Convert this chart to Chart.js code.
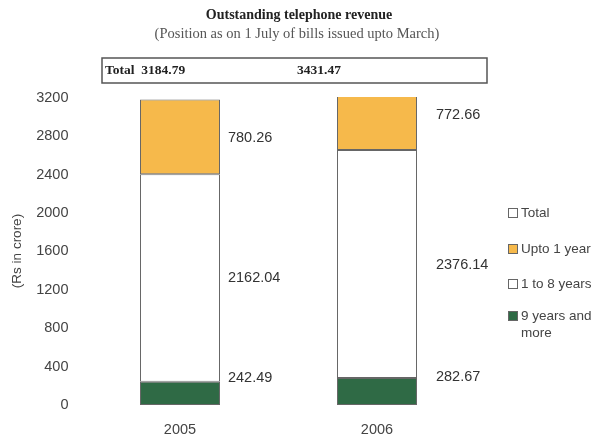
<!DOCTYPE html>
<html>
<head>
<meta charset="utf-8">
<script src="https://cdn.jsdelivr.net/npm/chart.js@4.4.1/dist/chart.umd.min.js"></script>
<style>
  html, body { margin: 0; padding: 0; background: #fff; }
  #wrap { width: 602px; height: 440px; position: relative; }
</style>
</head>
<body>
<div id="wrap"><canvas id="revChart" width="602" height="440"></canvas></div>
<script>
// chart data
const years = ['2005', '2006'];
const totals = [3184.79, 3431.47];
const nineYearsMore = [242.49, 282.67];
const oneToEight = [2162.04, 2376.14];
const uptoOneYear = [780.26, 772.66];
const yTickValues = [0, 400, 800, 1200, 1600, 2000, 2400, 2800, 3200];
const legendNames = ['Total', 'Upto 1 year', '1 to 8 years', ['9 years and', 'more']];

const titleText = 'Outstanding telephone revenue';
const subtitleText = '(Position as on 1 July of bills issued upto March)';

const orange = '#f6b94b';
const green = '#2f6a45';
const edge = '#666';

// title, subtitle and the totals box above the bars
const headerPlugin = {
  id: 'header',
  afterDraw(chart) {
    const c = chart.ctx;
    const xs = chart.scales.x;
    c.save();
    c.fillStyle = '#222';
    c.textAlign = 'center';
    c.textBaseline = 'middle';
    c.font = 'bold 14px "Liberation Serif"';
    c.fillText(titleText, 299, 15);
    c.fillStyle = '#555';
    c.font = '14.5px "Liberation Serif"';
    c.fillText(subtitleText, 297, 34);

    // totals box
    c.strokeStyle = '#555';
    c.lineWidth = 1.5;
    c.strokeRect(102, 58, 385, 25);
    c.fillStyle = '#222';
    c.font = 'bold 13.5px "Liberation Serif"';
    c.textAlign = 'left';
    c.fillText('Total  ' + totals[0].toFixed(2), 105, 71);
    c.fillText(totals[1].toFixed(2), xs.getPixelForValue(1) - 80, 71);
    c.restore();
  }
};

// value labels right of each segment
const valueLabels = {
  id: 'valueLabels',
  afterDatasetsDraw(chart, args, opts) {
    const c = chart.ctx;
    const top = chart.chartArea.top;
    c.save();
    c.font = '14.5px "Liberation Sans"';
    c.fillStyle = '#333';
    c.textAlign = 'left';
    c.textBaseline = 'middle';
    chart.data.datasets.forEach((ds, di) => {
      const meta = chart.getDatasetMeta(di);
      meta.data.forEach((el, i) => {
        const yTop = Math.max(el.y, top);
        const y = (yTop + el.base) / 2 + opts.nudgeY[di][i];
        const x = el.x + el.width / 2 + opts.gapX[i];
        c.fillText(ds.data[i].toFixed(2), x, y);
      });
    });
    c.restore();
  }
};

// legend on the right, drawn by hand for the two-line entry
const sideLegend = {
  id: 'sideLegend',
  afterDraw(chart) {
    const c = chart.ctx;
    const fills = ['#fff', orange, '#fff', green];
    const rows = [213, 249, 284, 316];
    c.save();
    c.font = '13.5px "Liberation Sans"';
    c.textBaseline = 'middle';
    c.textAlign = 'left';
    legendNames.forEach((name, i) => {
      c.fillStyle = fills[i];
      c.fillRect(508.5, rows[i] - 4.5, 9, 9);
      c.strokeStyle = edge;
      c.lineWidth = 1;
      c.strokeRect(508.5, rows[i] - 4.5, 9, 9);
      c.fillStyle = '#444';
      const lines = Array.isArray(name) ? name : [name];
      lines.forEach((t, k) => c.fillText(t, 521, rows[i] + k * 17));
    });
    c.restore();
  }
};

const ctx = document.getElementById('revChart').getContext('2d');
const revChart = new Chart(ctx, {
  type: 'bar',
  data: {
    labels: years,
    datasets: [
      { label: '9 years and more', data: nineYearsMore, backgroundColor: green },
      { label: '1 to 8 years', data: oneToEight, backgroundColor: '#fff' },
      { label: 'Upto 1 year', data: uptoOneYear, backgroundColor: orange }
    ]
  },
  options: {
    responsive: false,
    animation: false,
    devicePixelRatio: 1,
    datasets: {
      bar: {
        borderColor: edge,
        borderWidth: 1,
        borderSkipped: false,
        barPercentage: 0.406,
        categoryPercentage: 1
      }
    },
    layout: { padding: { top: 97, right: 126.5, left: 0, bottom: 0 } },
    plugins: {
      legend: { display: false },
      tooltip: { enabled: false },
      valueLabels: {
        gapX: [8, 19],
        nudgeY: [[-15, -14], [0, 1], [1.5, -8]]
      }
    },
    scales: {
      x: {
        stacked: true,
        grid: { display: false, drawTicks: false },
        border: { display: false },
        ticks: { padding: 16.5, color: '#444', font: { family: 'Liberation Sans', size: 14.5 } },
        afterFit(scale) { scale.height = 35; }
      },
      y: {
        stacked: true,
        min: 0,
        max: 3210,
        grid: { display: false, drawTicks: false },
        border: { display: false },
        afterBuildTicks(scale) {
          scale.ticks = yTickValues.map(v => ({ value: v }));
        },
        ticks: {
          padding: 13,
          color: '#444',
          font: { family: 'Liberation Sans', size: 14.5 },
          callback: v => String(v)
        },
        title: {
          display: true,
          text: '(Rs in crore)',
          color: '#444',
          padding: { top: 9, bottom: 0 },
          font: { family: 'Liberation Sans', size: 13.5 }
        },
        afterFit(scale) { scale.width = 81.5; }
      }
    }
  },
  plugins: [headerPlugin, valueLabels, sideLegend]
});
</script>
</body>
</html>
